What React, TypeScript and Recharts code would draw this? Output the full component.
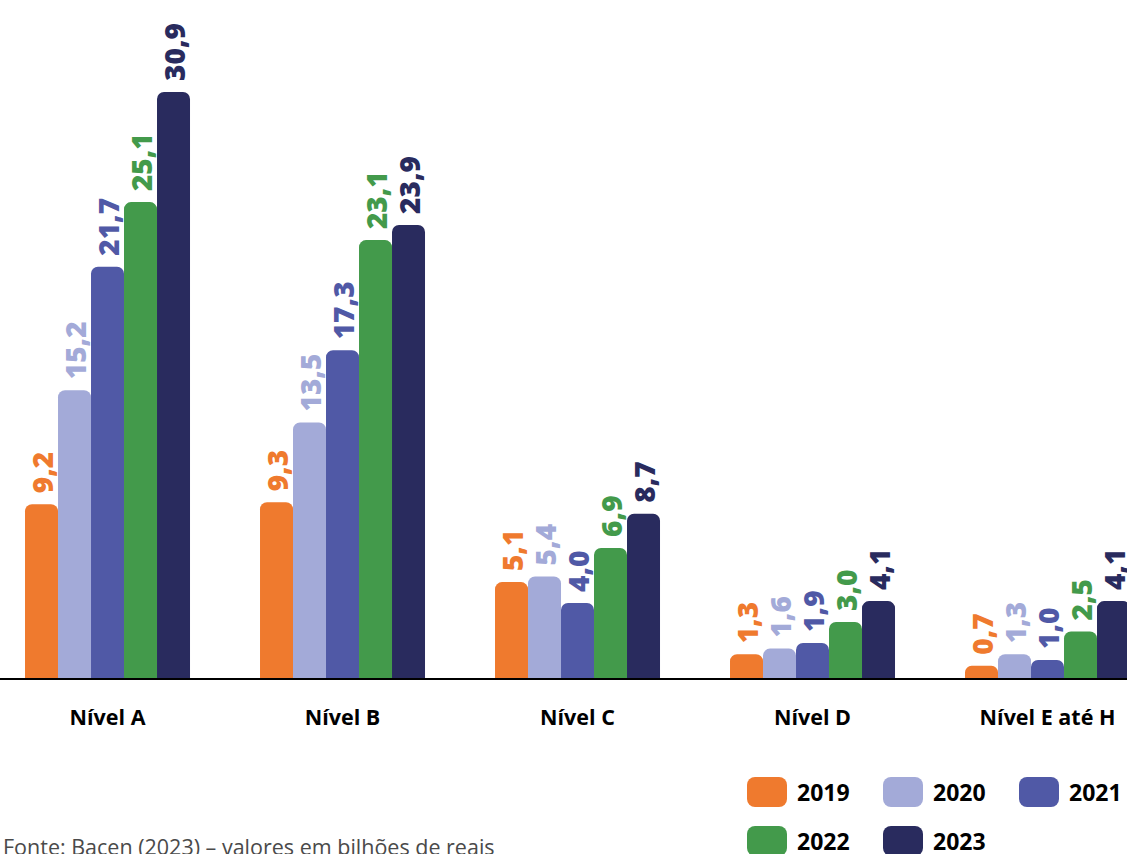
import React from 'react';
import { BarChart, Bar, XAxis, YAxis, LabelList } from 'recharts';

const categories = ['Nível A', 'Nível B', 'Nível C', 'Nível D', 'Nível E até H'];
const years = ['2019', '2020', '2021', '2022', '2023'];
const colors = ['#EF7A2E', '#A3AAD8', '#5059A6', '#439A4B', '#292B5E'];
const v2019 = [9.2, 9.3, 5.1, 1.3, 0.7];
const v2020 = [15.2, 13.5, 5.4, 1.6, 1.3];
const v2021 = [21.7, 17.3, 4.0, 1.9, 1.0];
const v2022 = [25.1, 23.1, 6.9, 3.0, 2.5];
const v2023 = [30.9, 23.9, 8.7, 4.1, 4.1];
const series = [v2019, v2020, v2021, v2022, v2023];

const data = categories.map((c, i) => {
  const row: any = { name: c };
  years.forEach((y, k) => {
    row[y] = series[k][i];
  });
  return row;
});

const FONT = '"Open Sans", "Noto Sans", sans-serif';

const fmt = (v: number) => v.toFixed(1).replace('.', ',');

const makeLabel = (color: string) => (props: any) => {
  const { x, y, width, value } = props;
  const cx = x + width / 2;
  const ty = y - 11;
  return (
    <text
      x={cx}
      y={ty}
      transform={`rotate(-90, ${cx}, ${ty})`}
      textAnchor="start"
      dominantBaseline="central"
      fill={color}
      fontFamily={FONT}
      fontWeight={800}
      fontSize={28}
    >
      {fmt(value)}
    </text>
  );
};

const Tick = (props: any) => {
  const { x, y, payload } = props;
  return (
    <text
      x={x}
      y={y + 44}
      textAnchor="middle"
      fill="#000"
      fontFamily={FONT}
      fontWeight={700}
      fontSize={21.5}
    >
      {payload.value}
    </text>
  );
};

const legendPos = [
  { left: 747, top: 777 },
  { left: 883, top: 777 },
  { left: 1019, top: 777 },
  { left: 747, top: 826 },
  { left: 883, top: 826 },
];

export default function App() {
  return (
    <div
      style={{
        position: 'absolute',
        left: 0,
        top: 0,
        width: 1127,
        height: 854,
        overflow: 'hidden',
        background: '#fff',
      }}
    >
      <div style={{ position: 'absolute', left: -10, top: 0 }}>
        <BarChart
          width={1175}
          height={854}
          data={data}
          margin={{ top: 52, right: 0, bottom: 115, left: 0 }}
          barCategoryGap="14.9%"
          barGap={0}
        >
          <YAxis hide domain={[0, 33]} />
          <XAxis
            dataKey="name"
            height={60}
            tickLine={false}
            tickSize={0}
            axisLine={{ stroke: '#000', strokeWidth: 2 }}
            tick={<Tick />}
            interval={0}
          />
          {years.map((y, k) => (
            <Bar
              key={y}
              dataKey={y}
              fill={colors[k]}
              radius={[7, 7, 0, 0]}
              isAnimationActive={false}
            >
              <LabelList dataKey={y} content={makeLabel(colors[k])} />
            </Bar>
          ))}
        </BarChart>
      </div>
      {years.map((y, k) => (
        <div
          key={y}
          style={{
            position: 'absolute',
            left: legendPos[k].left,
            top: legendPos[k].top,
            display: 'flex',
            alignItems: 'center',
            height: 30,
          }}
        >
          <div
            style={{
              width: 40,
              height: 30,
              borderRadius: 8,
              background: colors[k],
            }}
          />
          <span
            style={{
              marginLeft: 10,
              fontFamily: FONT,
              fontWeight: 700,
              fontSize: 23,
              color: '#000',
              lineHeight: '30px',
            }}
          >
            {y}
          </span>
        </div>
      ))}
      <div
        style={{
          position: 'absolute',
          left: 3,
          top: 832,
          fontFamily: FONT,
          fontSize: 21.5,
          color: '#4a4a4a',
          lineHeight: '30px',
          whiteSpace: 'nowrap',
        }}
      >
        Fonte: Bacen (2023) – valores em bilhões de reais
      </div>
    </div>
  );
}
